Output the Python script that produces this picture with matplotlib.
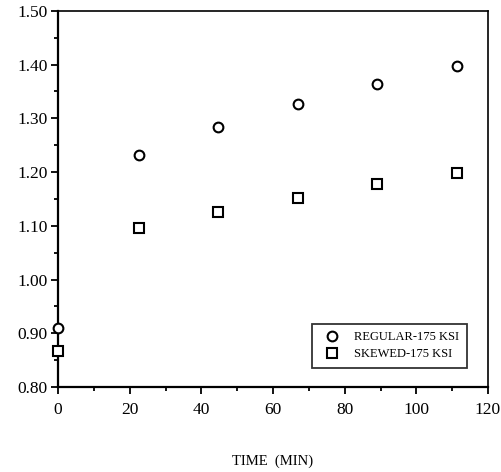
import numpy as np
import matplotlib.pyplot as plt
from matplotlib.ticker import MultipleLocator

plt.rcParams['font.family'] = ['Liberation Serif', 'DejaVu Serif']

t_regular = [0, 22.7, 44.7, 67.0, 88.9, 111.3]
regular = [0.909, 1.231, 1.283, 1.327, 1.363, 1.398]
t_skewed = [0, 22.7, 44.7, 67.0, 88.9, 111.3]
skewed = [0.867, 1.096, 1.126, 1.152, 1.177, 1.198]

fig = plt.figure(figsize=(5.01, 4.72), dpi=100)
ax = fig.add_axes([0.116, 0.18, 0.858, 0.797])

ax.plot(t_regular, regular, 'o', ms=7, mfc='white', mec='black', mew=1.5,
        ls='none', label='REGULAR-175 KSI', clip_on=False, zorder=5)
ax.plot(t_skewed, skewed, 's', ms=7, mfc='white', mec='black', mew=1.5,
        ls='none', label='SKEWED-175 KSI', clip_on=False, zorder=5)

ax.set_xlim(0, 120)
ax.set_ylim(0.80, 1.50)
ax.xaxis.set_major_locator(MultipleLocator(20))
ax.xaxis.set_minor_locator(MultipleLocator(10))
ax.yaxis.set_major_locator(MultipleLocator(0.10))
ax.yaxis.set_minor_locator(MultipleLocator(0.05))
ax.set_yticklabels(['%.2f' % v for v in ax.get_yticks()])

ax.tick_params(which='major', direction='out', length=5, width=1.3, labelsize=12.5)
ax.tick_params(axis='x', which='major', pad=6)
ax.tick_params(axis='y', which='major', pad=2.5)
ax.tick_params(which='minor', direction='out', length=3, width=1.3)
ax.spines['left'].set_linewidth(1.6)
ax.spines['bottom'].set_linewidth(1.6)
ax.spines['top'].set_linewidth(1.2)
ax.spines['right'].set_linewidth(1.2)

ax.set_xlabel('TIME  (MIN)', fontsize=10.5, labelpad=26)

leg = ax.legend(loc='lower right', bbox_to_anchor=(0.965, 0.035), fontsize=9,
                frameon=True, fancybox=False, edgecolor='black',
                handletextpad=0.8, borderpad=0.6, labelspacing=0.4)
leg.get_frame().set_linewidth(1.3)

fig.savefig('out.png', dpi=100)
